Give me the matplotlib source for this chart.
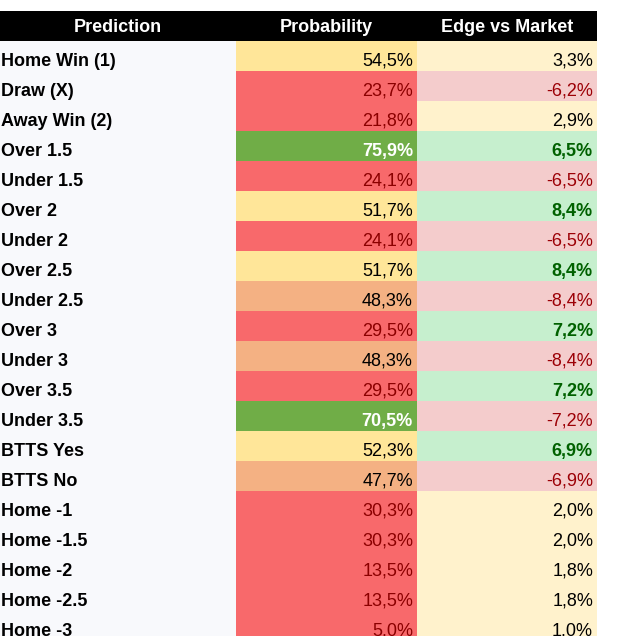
import matplotlib
matplotlib.use("Agg")
import matplotlib.pyplot as plt

plt.rcParams['font.family'] = ['Liberation Sans', 'DejaVu Sans']

# table content
headers = ['Prediction', 'Probability', 'Edge vs Market']
predictions = ['Home Win (1)', 'Draw (X)', 'Away Win (2)', 'Over 1.5', 'Under 1.5',
               'Over 2', 'Under 2', 'Over 2.5', 'Under 2.5', 'Over 3', 'Under 3',
               'Over 3.5', 'Under 3.5', 'BTTS Yes', 'BTTS No', 'Home -1',
               'Home -1.5', 'Home -2', 'Home -2.5', 'Home -3']
probability = [54.5, 23.7, 21.8, 75.9, 24.1, 51.7, 24.1, 51.7, 48.3, 29.5,
               48.3, 29.5, 70.5, 52.3, 47.7, 30.3, 30.3, 13.5, 13.5, 5.0]
edge = [3.3, -6.2, 2.9, 6.5, -6.5, 8.4, -6.5, 8.4, -8.4, 7.2,
        -8.4, 7.2, -7.2, 6.9, -6.9, 2.0, 2.0, 1.8, 1.8, 1.0]


def fmt(v):
    return f"{v:.1f}%".replace('.', ',')


def prob_style(p):
    # background, text colour, bold
    if p >= 60:
        return '#70AD47', 'white', True
    if p >= 50:
        return '#FFE699', 'black', False
    if p >= 40:
        return '#F4B183', 'black', False
    return '#F8696B', '#8B0000', False


def edge_style(e):
    if e >= 5:
        return '#C6EFCE', '#006100', True
    if e < 0:
        return '#F4CCCC', '#9C0006', False
    return '#FFF2CC', 'black', False


W, H = 617, 636
fig = plt.figure(figsize=(W / 100, H / 100), dpi=100)
ax = fig.add_axes([0, 0, 1, 1])
ax.set_xlim(0, W)
ax.set_ylim(H, 0)
ax.axis('off')

col_x = [0, 236, 417]
col_w = [236, 181, 180]
head_top, head_h, row_h = 11, 30, 30
fs = 13

# header
ax.barh(head_top + head_h / 2, sum(col_w), height=head_h, left=0, color='black')
head_cx = [118, 326, 507]
for cx, h in zip(head_cx, headers):
    ax.text(cx, head_top + head_h / 2 + 1.5, h, color='white', fontsize=fs,
            fontweight='bold', ha='center', va='center')

n = len(predictions)
ys = [head_top + head_h + row_h * (i + 0.5) for i in range(n)]

ax.barh(ys, col_w[0], height=row_h, left=col_x[0], color='#F8F9FC')
ax.barh(ys, col_w[1], height=row_h, left=col_x[1],
        color=[prob_style(p)[0] for p in probability])
ax.barh(ys, col_w[2], height=row_h, left=col_x[2],
        color=[edge_style(e)[0] for e in edge])

dy = 5.5
for y, name, p, e in zip(ys, predictions, probability, edge):
    ax.text(1, y + dy, name, fontsize=fs, fontweight='bold', color='black',
            ha='left', va='center')
    _, tc, b = prob_style(p)
    ax.text(413, y + dy, fmt(p), fontsize=fs, color=tc,
            fontweight='bold' if b else 'normal', ha='right', va='center')
    _, tc, b = edge_style(e)
    ax.text(593, y + dy, fmt(e), fontsize=fs, color=tc,
            fontweight='bold' if b else 'normal', ha='right', va='center')

fig.savefig('out.png', dpi=100)
